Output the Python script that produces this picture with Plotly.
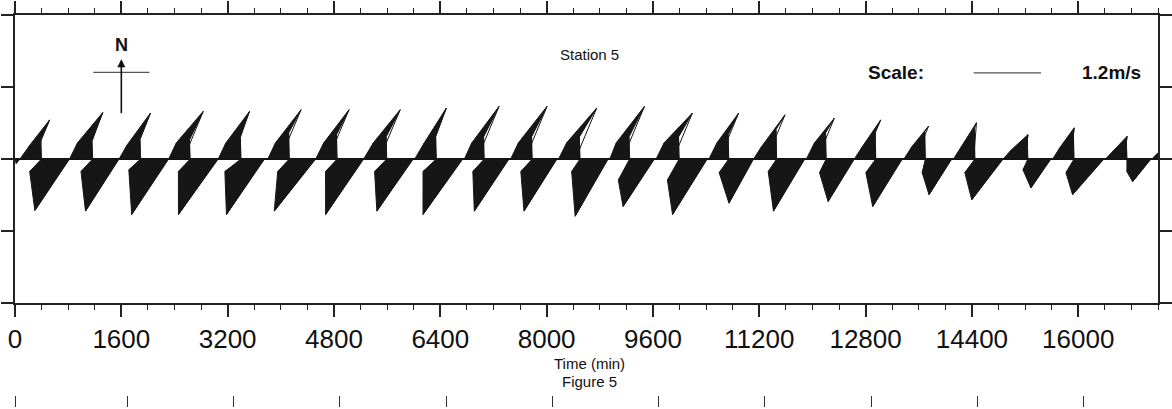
import plotly.graph_objects as go

# ---------------- data (time in min, velocity components in m/s) ----------------
# flood phases (current toward N/NE)
flood_start = [75, 820, 1566, 2312, 3058, 3804, 4525, 5247, 6016, 6762, 7459, 8180, 8951, 9647,
               10443, 11114, 11909, 12631, 13377, 14123, 14869, 15615, 16410, 17111]
flood_mid_t = [134, 843, 1596, 2330, 3076, 3822, 4548, 5294, 6060, 6776, 7477, 8203, 8966, 9670,
               10465, 11159, 11933, 12676, 13422, 14168, 14933, 15659, 16476, 17139]
flood_mid_u = [0.11, 0.12, 0.11, 0.12, 0.12, 0.12, 0.12, 0.12, 0.12, 0.12, 0.12, 0.12, 0.10, 0.12,
               0.12, 0.09, 0.12, 0.09, 0.09, 0.09, 0.07, 0.09, 0.07, 0.02]
flood_mid_v = [0.25, 0.29, 0.25, 0.29, 0.29, 0.29, 0.29, 0.29, 0.29, 0.29, 0.29, 0.29, 0.29, 0.29,
               0.29, 0.22, 0.29, 0.22, 0.22, 0.22, 0.16, 0.22, 0.16, 0.06]
flood_peak_t = [276, 1025, 1751, 2536, 3233, 3992, 4714, 5484, 6170, 6955, 7677, 8433, 9143, 9906,
                10602, 11309, 12076, 12782, 13545, 14426, 15201, 15888, 16693, 17187]
flood_peak_u = [0.29, 0.35, 0.34, 0.35, 0.35, 0.37, 0.37, 0.37, 0.38, 0.39, 0.39, 0.38, 0.39, 0.34,
                0.34, 0.33, 0.30, 0.29, 0.24, 0.05, 0.05, 0.06, 0.05, 0.07]
flood_peak_v = [0.69, 0.82, 0.81, 0.84, 0.84, 0.87, 0.87, 0.87, 0.90, 0.93, 0.93, 0.90, 0.93, 0.81,
                0.81, 0.78, 0.72, 0.69, 0.58, 0.64, 0.43, 0.55, 0.40, 0.15]
flood_late_t = [388, 1158, 1880, 2626, 3391, 4118, 4838, 5584, 6330, 7051, 7773, 8493, 9239, 9985,
                10731, 11451, 12197, 12943, 13689, 14435, 15232, 15927, 16723, 17190]
flood_late_v = [0.34, 0.31, 0.34, 0.34, 0.38, 0.46, 0.43, 0.39, 0.39, 0.39, 0.39, 0.39, 0.39, 0.39,
                0.43, 0.52, 0.46, 0.48, 0.48, 0.53, 0.35, 0.44, 0.32, 0.09]
flood_end = [398, 1168, 1890, 2636, 3401, 4128, 4848, 5594, 6340, 7061, 7783, 8503, 9249, 9995,
             10741, 11461, 12207, 12953, 13699, 14445, 15242, 15937, 16733, 17200]

# ebb phases (current toward S/SW)
ebb_start = [0, 398, 1168, 1890, 2636, 3401, 4128, 4848, 5594, 6340, 7061, 7783, 8503, 9249,
             9995, 10741, 11461, 12207, 12953, 13699, 14445, 15242, 15937, 16733]
ebb_mid_t = [15, 483, 1247, 1975, 2721, 3471, 4207, 4927, 5673, 6419, 7135, 7857, 8588, 9324,
             10080, 10816, 11546, 12292, 13032, 13778, 14530, 15312, 16026, 16808]
ebb_mid_u = [-0.01, -0.31, -0.30, -0.31, -0.31, -0.37, -0.30, -0.30, -0.31, -0.33, -0.29, -0.29,
             -0.25, -0.29, -0.31, -0.26, -0.25, -0.22, -0.27, -0.15, -0.28, -0.17, -0.25, -0.09]
ebb_mid_v = [-0.03, -0.22, -0.22, -0.19, -0.22, -0.22, -0.22, -0.22, -0.22, -0.22, -0.22, -0.22,
             -0.22, -0.37, -0.37, -0.24, -0.22, -0.24, -0.24, -0.24, -0.24, -0.19, -0.24, -0.22]
ebb_peak_t = [60, 806, 1551, 2297, 3043, 3740, 4510, 5232, 5978, 6723, 7419, 8141, 8911, 9607,
              10402, 11099, 11870, 12616, 13338, 14084, 14854, 15575, 16371, 17080]
ebb_peak_u = [-0.05, -0.60, -0.58, -0.64, -0.69, -0.66, -0.72, -0.66, -0.63, -0.69, -0.60, -0.57,
              -0.57, -0.54, -0.60, -0.42, -0.54, -0.45, -0.51, -0.39, -0.54, -0.34, -0.54, -0.31]
ebb_peak_v = [-0.08, -0.91, -0.92, -0.98, -0.98, -0.98, -0.92, -0.98, -0.92, -0.98, -0.92, -0.92,
              -1.01, -0.84, -0.98, -0.78, -0.92, -0.75, -0.84, -0.63, -0.72, -0.51, -0.63, -0.40]
ebb_end = [75, 820, 1566, 2312, 3058, 3755, 4525, 5247, 5993, 6738, 7434, 8156, 8926, 9622,
           10417, 11114, 11885, 12631, 13352, 14097, 14869, 15589, 16386, 17095]

x_ticks = [0, 1600, 3200, 4800, 6400, 8000, 9600, 11200, 12800, 14400, 16000]
scale_speed = 1.2   # m/s
north_len = 1.0     # m/s

# ---------------- geometry ----------------
W, H = 1172, 409
ML, MR, MT, MB = 15, 4, 15, 0
T_MAX = 17200
PX_PER_MS = 68 / 1.2
plot_w = W - ML - MR
MIN_PER_PX = T_MAX / plot_w
KX = PX_PER_MS * MIN_PER_PX          # minutes of x-axis per m/s (isotropic sticks)
main_h = 288
Y_HALF = main_h / 2 / PX_PER_MS
paper_h = H - MT - MB
dom_bottom = (H - 303) / paper_h

INK = "#161616"

def add_phase(xs, ys, sx, sy, t0, sticks, t1):
    xs.append(t0); ys.append(0)
    for (t, u, v) in sticks:
        xs.append(t + u * KX); ys.append(v)
        sx += [t, t + u * KX, None]; sy += [0, v, None]
    xs += [t1, None]; ys += [0, None]

px, py, sx, sy = [], [], [], []
for i in range(len(flood_start)):
    add_phase(px, py, sx, sy, flood_start[i],
              [(flood_mid_t[i], flood_mid_u[i], flood_mid_v[i]),
               (flood_peak_t[i], flood_peak_u[i], flood_peak_v[i]),
               (flood_late_t[i], 0.0, flood_late_v[i])],
              flood_end[i])
for i in range(len(ebb_start)):
    add_phase(px, py, sx, sy, ebb_start[i],
              [(ebb_mid_t[i], ebb_mid_u[i], ebb_mid_v[i]),
               (ebb_peak_t[i], ebb_peak_u[i], ebb_peak_v[i])],
              ebb_end[i])

fig = go.Figure()
fig.add_trace(go.Scatter(x=px, y=py, mode="lines", fill="toself", fillcolor=INK,
                         line=dict(color=INK, width=1), hoverinfo="skip", showlegend=False))
fig.add_trace(go.Scatter(x=sx, y=sy, mode="lines", line=dict(color=INK, width=1),
                         hoverinfo="skip", showlegend=False))
# empty trace so the lower (cut-off) panel axis is rendered
fig.add_trace(go.Scatter(x=[None], y=[None], xaxis="x2", yaxis="y2", mode="lines",
                         hoverinfo="skip", showlegend=False))

FONT = "Liberation Sans"
AX = "#222"

# north arrow
n_t = 1600
fig.add_annotation(x=n_t, y=1.76, ax=n_t, ay=1.76 - north_len * 0.98, xref="x", yref="y",
                   axref="x", ayref="y", text="", showarrow=True, arrowhead=2, arrowsize=1,
                   arrowwidth=1.6, arrowcolor="#111")
fig.add_shape(type="line", x0=n_t - 0.5 * north_len * KX, x1=n_t + 0.5 * north_len * KX,
              y0=1.53, y1=1.53, xref="x", yref="y", line=dict(color="#555", width=1.2))
fig.add_annotation(x=n_t, y=2.02, xref="x", yref="y", text="<b>N</b>", showarrow=False,
                   xanchor="center", yanchor="middle",
                   font=dict(family=FONT, size=18, color="#111"))

# scale bar
s_t0 = 14426
fig.add_shape(type="line", x0=s_t0, x1=s_t0 + scale_speed * KX, y0=1.52, y1=1.52,
              xref="x", yref="y", line=dict(color="#555", width=1.2))
fig.add_annotation(x=13262, y=1.52, xref="x", yref="y", text="<b>Scale:</b>", showarrow=False,
                   xanchor="center", yanchor="middle",
                   font=dict(family=FONT, size=19, color="#111"))
fig.add_annotation(x=16499, y=1.52, xref="x", yref="y", text="<b>1.2m/s</b>", showarrow=False,
                   xanchor="center", yanchor="middle",
                   font=dict(family=FONT, size=19, color="#111"))
fig.add_annotation(x=8652, y=1.84, xref="x", yref="y", text="Station 5", showarrow=False,
                   xanchor="center", yanchor="middle",
                   font=dict(family=FONT, size=15, color="#111"))

fig.add_annotation(x=(595 - ML) / plot_w, y=(H - 363) / paper_h, xref="paper", yref="paper",
                   text="Time (min)", showarrow=False, xanchor="center", yanchor="middle",
                   font=dict(family=FONT, size=15, color="#111"))
fig.add_annotation(x=(595 - ML) / plot_w, y=(H - 381) / paper_h, xref="paper", yref="paper",
                   text="Figure 5", showarrow=False, xanchor="center", yanchor="middle",
                   font=dict(family=FONT, size=15, color="#111"))

fig.update_layout(
    width=W, height=H, margin=dict(l=ML, r=MR, t=MT, b=MB, pad=0),
    paper_bgcolor="white", plot_bgcolor="white", showlegend=False,
    font=dict(family=FONT, color="#111"),
    xaxis=dict(domain=[0, 1], anchor="y", range=[0, T_MAX], tickvals=x_ticks,
               ticktext=[str(v) for v in x_ticks], ticks="outside", ticklen=12, tickwidth=1.5,
               tickcolor=AX, showline=True, linewidth=2, linecolor=AX, mirror="ticks",
               showgrid=False, zeroline=False,
               tickfont=dict(family=FONT, size=26, color="#111"),
               minor=dict(dtick=400, tick0=0, ticks="outside", ticklen=5, tickwidth=1.2,
                          tickcolor=AX, showgrid=False)),
    yaxis=dict(domain=[dom_bottom, 1], anchor="x", range=[-Y_HALF, Y_HALF],
               tickvals=[-Y_HALF, -Y_HALF / 2, 0, Y_HALF / 2, Y_HALF], showticklabels=False,
               ticks="outside", ticklen=12, tickwidth=1.5, tickcolor=AX, showline=True,
               linewidth=2, linecolor=AX, mirror="ticks", showgrid=False,
               zeroline=True, zerolinecolor="#111", zerolinewidth=2),
    xaxis2=dict(domain=[0, 1], anchor="y2", range=[0, T_MAX], side="top",
                tickvals=[0, 1686, 3286, 4886, 6486, 8086, 9686, 11286, 12886, 14486, 16086],
                ticks="outside", ticklen=11, tickwidth=1.3, tickcolor="#333",
                showticklabels=False, showline=False, showgrid=False, zeroline=False),
    yaxis2=dict(domain=[0, 0.002], anchor="x2", range=[0, 1], showticklabels=False, ticks="",
                showline=False, showgrid=False, zeroline=False),
)

fig.write_html("out.html")
